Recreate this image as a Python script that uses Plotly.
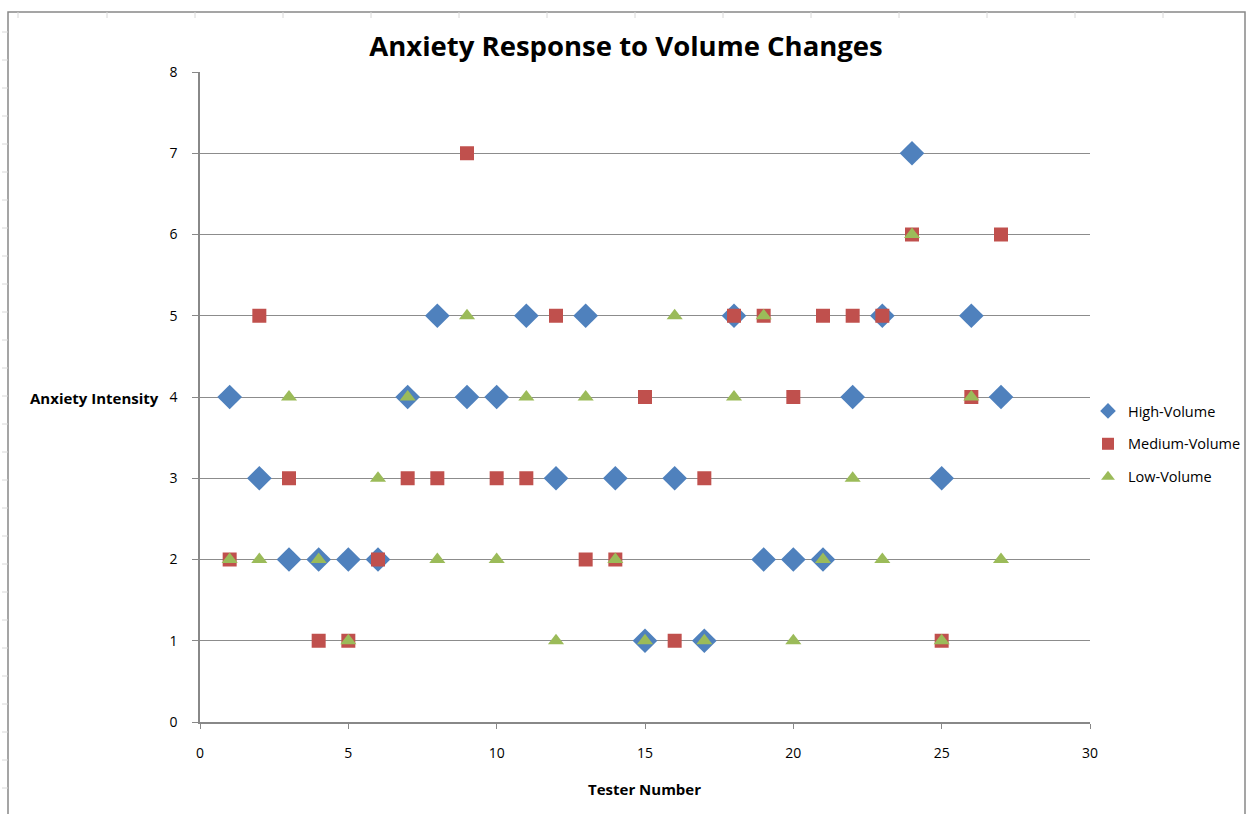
import plotly.graph_objects as go

# Tester numbers and anxiety scores for each volume level
testers = list(range(1, 28))
high_volume = [4, 3, 2, 2, 2, 2, 4, 5, 4, 4, 5, 3, 5, 3, 1, 3, 1, 5, 2, 2, 2, 4, 5, 7, 3, 5, 4]
medium_volume = [2, 5, 3, 1, 1, 2, 3, 3, 7, 3, 3, 5, 2, 2, 4, 1, 3, 5, 5, 4, 5, 5, 5, 6, 1, 4, 6]
low_volume = [2, 2, 4, 2, 1, 3, 4, 2, 5, 2, 4, 1, 4, 2, 1, 5, 1, 4, 5, 1, 2, 3, 2, 6, 1, 4, 2]

W, H = 1249, 814
L, R, T, B = 200, 1090, 72, 722  # plot area in pixels


def px_x(x):
    return (x - L) / (R - L)


def px_y(y):
    return (B - y) / (B - T)


fig = go.Figure()
fig.add_trace(go.Scatter(x=testers, y=high_volume, mode="markers", name="High-Volume",
                         legendgroup="h",
                         marker=dict(symbol="diamond", size=19, color="#4F81BD")))
fig.add_trace(go.Scatter(x=testers, y=medium_volume, mode="markers", name="Medium-Volume",
                         legendgroup="m",
                         marker=dict(symbol="square", size=14, color="#C0504D")))
fig.add_trace(go.Scatter(x=testers, y=low_volume, mode="markers", name="Low-Volume",
                         legendgroup="l",
                         marker=dict(symbol="triangle-up", size=14, color="#9BBB59")))

shapes = []
# outer chart frame
shapes.append(dict(type="rect", xref="paper", yref="paper",
                   x0=px_x(8), x1=px_x(1245), y0=px_y(830), y1=px_y(12),
                   line=dict(color="#888888", width=1.5), layer="below"))
# worksheet grid ticks along the left and top edges
for yy in range(32, 814, 28):
    shapes.append(dict(type="line", xref="paper", yref="paper",
                       x0=px_x(2), x1=px_x(8), y0=px_y(yy), y1=px_y(yy),
                       line=dict(color="#d8d8d8", width=1)))
for xx in [18, 107, 195, 283, 371, 459, 547, 635, 723, 811, 899, 987, 1075, 1163]:
    shapes.append(dict(type="line", xref="paper", yref="paper",
                       x0=px_x(xx), x1=px_x(xx), y0=px_y(12), y1=px_y(18),
                       line=dict(color="#d8d8d8", width=1)))

fig.update_layout(
    width=W, height=H,
    margin=dict(l=L, r=W - R, t=T, b=H - B, pad=0, autoexpand=False),
    paper_bgcolor="white", plot_bgcolor="white",
    font=dict(family="Open Sans, Liberation Sans, sans-serif", color="#000000", size=14),
    title=dict(text="<b>Anxiety Response to Volume Changes</b>",
               xref="paper", x=px_x(626), xanchor="center",
               yref="container", y=1 - 46 / H, yanchor="middle",
               font=dict(size=27.5, family="Open Sans, sans-serif")),
    xaxis=dict(range=[0, 30], dtick=5, showgrid=False, zeroline=False,
               showline=True, linecolor="#888888", linewidth=1.5,
               ticks="outside", ticklen=5, tickcolor="#888888",
               ticklabelstandoff=12, tickfont=dict(size=14)),
    yaxis=dict(range=[0, 8], dtick=1, showgrid=True, gridcolor="#8c8c8c", gridwidth=1,
               zeroline=False, showline=True, linecolor="#888888", linewidth=1.5,
               ticks="outside", ticklen=6, tickcolor="#888888",
               ticklabelstandoff=12, tickfont=dict(size=14)),
    legend=dict(x=px_x(1088), y=px_y(395), xanchor="left", yanchor="top",
                font=dict(size=14.5), itemsizing="constant", tracegroupgap=11,
                itemwidth=30, bgcolor="rgba(0,0,0,0)"),
    shapes=shapes,
    annotations=[
        dict(text="<b>Anxiety Intensity</b>", xref="paper", yref="paper",
             x=px_x(94), y=px_y(398), showarrow=False, font=dict(size=15),
             xanchor="center", yanchor="middle"),
        dict(text="<b>Tester Number</b>", xref="paper", yref="paper",
             x=px_x(644), y=px_y(789), showarrow=False, font=dict(size=15),
             xanchor="center", yanchor="middle"),
    ],
)

fig.write_html("out.html")
